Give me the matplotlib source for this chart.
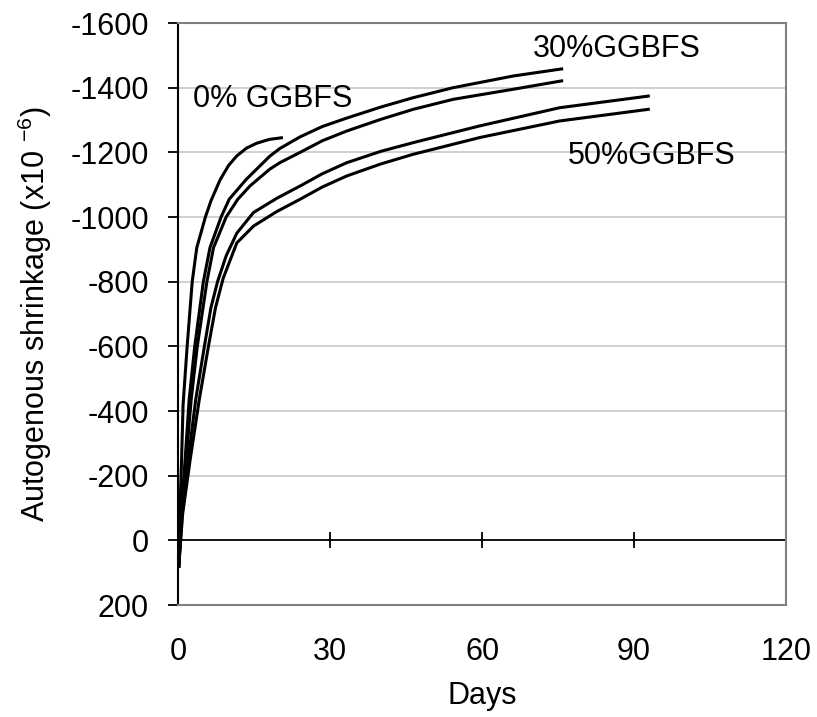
import matplotlib
matplotlib.use('Agg')
import matplotlib.pyplot as plt
import numpy as np

plt.rcParams['font.family'] = ['Liberation Sans', 'DejaVu Sans']
plt.rcParams['mathtext.fontset'] = 'custom'
plt.rcParams['mathtext.rm'] = 'Liberation Sans'
plt.rcParams['axes.unicode_minus'] = False

# 0% GGBFS
days_0 = [0.15, 0.4, 0.7, 1.0, 1.8, 2.8, 3.7, 5.4, 6.5, 8.3, 10.0, 11.6, 13.5, 15.5, 18.0, 20.4]
shr_0 = [80, -100, -250, -420, -600, -800, -905, -1000, -1050, -1115, -1160, -1189, -1213, -1228, -1240, -1245]

# 30% GGBFS, two specimens
days_30a = [0.15, 0.6, 1.4, 2.2, 3.3, 5.0, 6.3, 8.5, 10.1, 13.5, 18.1, 20.1, 24.1, 28.5, 33.3, 40.0, 46.4, 54.3, 66.1, 75.7]
shr_30a = [80, -80, -250, -436, -600, -800, -905, -1000, -1055, -1117, -1188, -1212, -1248, -1280, -1306, -1340, -1369, -1400, -1436, -1458]
days_30b = [0.15, 0.7, 1.6, 2.6, 3.8, 5.7, 7.0, 9.5, 11.8, 14.2, 18.1, 20.1, 24.1, 28.5, 33.3, 40.0, 46.4, 54.3, 66.1, 75.7]
shr_30b = [80, -80, -250, -436, -600, -800, -905, -1000, -1055, -1096, -1148, -1168, -1200, -1236, -1266, -1302, -1333, -1364, -1395, -1421]

# 50% GGBFS, two specimens
days_50a = [0.15, 0.8, 2.0, 3.5, 5.2, 6.5, 7.8, 9.5, 11.6, 14.9, 19.5, 24.1, 28.5, 33.3, 40.0, 46.4, 59.6, 75.3, 92.8]
shr_50a = [80, -80, -250, -436, -600, -720, -800, -880, -950, -1014, -1058, -1096, -1134, -1168, -1203, -1230, -1282, -1338, -1374]
days_50b = [0.15, 0.9, 2.4, 4.2, 6.0, 7.4, 8.9, 11.6, 14.9, 19.5, 24.1, 28.5, 33.3, 40.0, 46.4, 59.6, 75.3, 92.8]
shr_50b = [80, -80, -250, -436, -600, -720, -810, -920, -972, -1017, -1055, -1093, -1127, -1164, -1194, -1246, -1297, -1333]

xticks = [0, 30, 60, 90, 120]
yticks = [-1600, -1400, -1200, -1000, -800, -600, -400, -200, 0, 200]

fig = plt.figure(figsize=(8.17, 7.17), dpi=100)
ax = fig.add_axes([0.2179, 0.1562, 0.7443, 0.8117])

for g in yticks[1:-2]:
    ax.axhline(g, color='#c8c8c8', lw=1.2, zorder=1)
ax.axhline(0, color='black', lw=1.3, zorder=2)
ax.plot(xticks, np.zeros(len(xticks)), ls='none', marker='|', ms=12, mew=1.3, color='black', zorder=2)

for d, s in [(days_0, shr_0), (days_30a, shr_30a), (days_30b, shr_30b),
             (days_50a, shr_50a), (days_50b, shr_50b)]:
    ax.plot(d, s, color='black', lw=2.2, zorder=3, solid_joinstyle='round')

ax.text(3.0, -1364, '0% GGBFS', fontsize=22, va='center', ha='left')
ax.text(70.0, -1519, '30%GGBFS', fontsize=22, va='center', ha='left')
ax.text(76.9, -1188, '50%GGBFS', fontsize=22, va='center', ha='left')

ax.set_xlim(0, 120)
ax.set_ylim(200, -1600)
ax.set_xticks(xticks)
ax.set_yticks(yticks)
ax.tick_params(axis='x', length=0, pad=23, labelsize=22)
ax.tick_params(axis='y', direction='out', length=7, width=1.3, pad=14, labelsize=22)

for side in ['top', 'right', 'bottom']:
    ax.spines[side].set_color('#808080')
    ax.spines[side].set_linewidth(1.5)
ax.spines['left'].set_color('black')
ax.spines['left'].set_linewidth(1.5)

ax.set_xlabel('Days', fontsize=22, labelpad=10)
ax.set_ylabel(r'Autogenous shrinkage (x10 $^{-6}$)', fontsize=22, labelpad=12)

fig.savefig('out.png', dpi=100)
